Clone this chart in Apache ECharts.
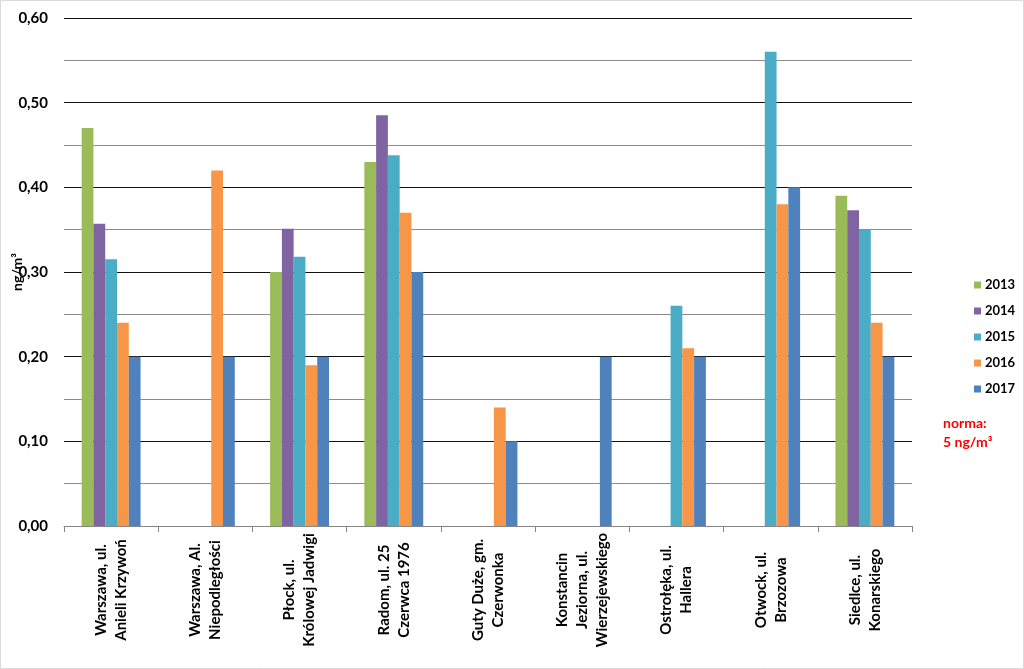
<!DOCTYPE html>
<html>
<head>
<meta charset="utf-8">
<script src="https://cdn.jsdelivr.net/npm/echarts@6/dist/echarts.min.js"></script>
<style>
html,body{margin:0;padding:0;background:#fff;}
#chart{width:1024px;height:669px;}
</style>
</head>
<body>
<div id="chart"></div>
<script>
const categories = [
  'Warszawa, ul.\nAnieli Krzywoń',
  'Warszawa, Al.\nNiepodległości',
  'Płock, ul.\nKrólowej Jadwigi',
  'Radom, ul. 25\nCzerwca 1976',
  'Guty Duże, gm.\nCzerwonka',
  'Konstancin\nJeziorna, ul.\nWierzejewskiego',
  'Ostrołęka, ul.\nHallera',
  'Otwock, ul.\nBrzozowa',
  'Siedlce, ul.\nKonarskiego'
];
const years = ['2013', '2014', '2015', '2016', '2017'];
const v2013 = [0.47, null, 0.30, 0.43, null, null, null, null, 0.39];
const v2014 = [0.357, null, 0.351, 0.485, null, null, null, null, 0.373];
const v2015 = [0.315, null, 0.318, 0.438, null, null, 0.26, 0.56, 0.35];
const v2016 = [0.24, 0.42, 0.19, 0.37, 0.14, null, 0.21, 0.38, 0.24];
const v2017 = [0.20, 0.20, 0.20, 0.30, 0.10, 0.20, 0.20, 0.40, 0.20];
const yTicks = [0, 0.1, 0.2, 0.3, 0.4, 0.5, 0.6];
const noteText = 'norma:\n5 ng/m³';

const colors = ['#9BBB59', '#8064A2', '#4BACC6', '#F79646', '#4F81BD'];
const seriesValues = [v2013, v2014, v2015, v2016, v2017];
const FONT = 'Lato, "Open Sans", sans-serif';

const chart = echarts.init(document.getElementById('chart'));
chart.setOption({
  animation: false,
  color: colors,
  grid: { left: 64, right: 112, top: 18, bottom: 143, containLabel: false, outerBoundsMode: 'none' },
  legend: {
    orient: 'vertical',
    left: 969,
    top: 273,
    itemWidth: 7,
    itemHeight: 7,
    itemGap: 12,
    icon: 'rect',
    data: years,
    textStyle: { fontFamily: FONT, fontWeight: 'bold', fontSize: 13, color: '#000', lineHeight: 14, padding: [0, 0, 0, -1] }
  },
  xAxis: {
    type: 'category',
    data: categories,
    axisLine: { show: true, lineStyle: { color: '#868686', width: 1 } },
    axisTick: { show: true, length: 6, lineStyle: { color: '#868686' } },
    axisLabel: {
      rotate: 90,
      interval: 0,
      align: 'center',
      margin: 64,
      fontFamily: FONT,
      fontWeight: 'bold',
      fontSize: 15,
      lineHeight: 20,
      color: '#000'
    }
  },
  yAxis: {
    type: 'value',
    min: yTicks[0],
    max: yTicks[yTicks.length - 1],
    interval: 0.1,
    name: 'ng/m³',
    nameLocation: 'middle',
    nameGap: 40,
    nameMoveOverlap: false,
    nameTextStyle: { fontFamily: FONT, fontWeight: 'bold', fontSize: 14, color: '#000' },
    axisLine: { show: false },
    axisTick: { show: false },
    axisLabel: {
      margin: 16,
      fontFamily: FONT,
      fontWeight: 'bold',
      fontSize: 15,
      color: '#000',
      formatter: v => v.toFixed(2).replace('.', ',')
    },
    splitLine: { show: true, lineStyle: { color: '#111', width: 1.2 } },
    minorTick: { show: false, splitNumber: 2 },
    minorSplitLine: { show: true, lineStyle: { color: '#8c8c8c', width: 1.2 } }
  },
  series: years.map((y, i) => ({
    name: y,
    type: 'bar',
    data: seriesValues[i],
    barGap: '0%',
    barCategoryGap: '37.5%',
    itemStyle: { color: colors[i] }
  })),
  graphic: [
    {
      type: 'rect',
      shape: { x: 0.5, y: 0.5, width: 1023, height: 668 },
      style: { fill: 'none', stroke: '#d9d9d9', lineWidth: 1 },
      silent: true
    },
    {
      type: 'text',
      left: 943,
      top: 414,
      style: {
        text: noteText,
        fill: '#ff0000',
        font: 'bold 14px ' + FONT,
        lineHeight: 19
      }
    }
  ]
});
</script>
</body>
</html>
